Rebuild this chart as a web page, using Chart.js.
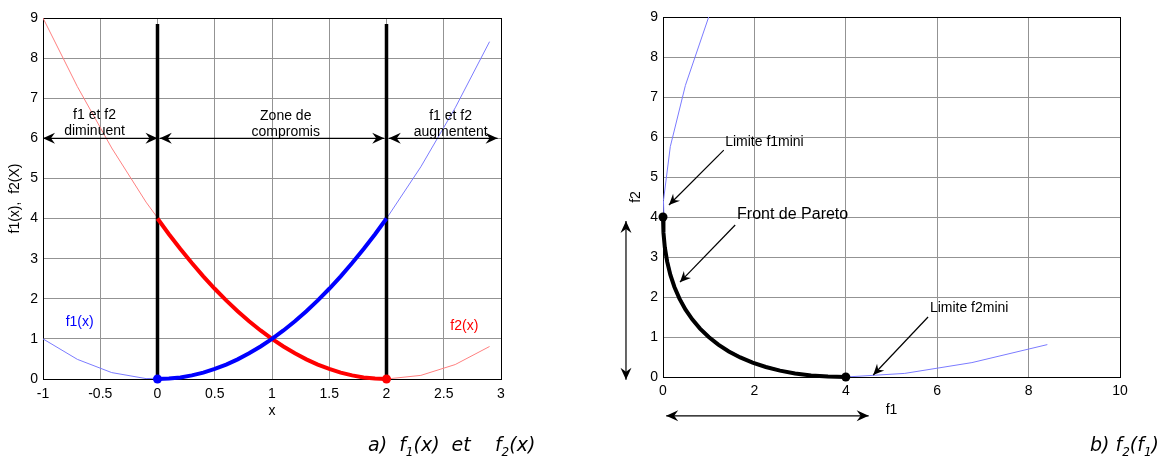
<!DOCTYPE html>
<html>
<head>
<meta charset="utf-8">
<script src="https://cdn.jsdelivr.net/npm/chart.js@4/dist/chart.umd.min.js"></script>
<style>
  body { margin: 0; background: #fff; width: 1174px; height: 458px; overflow: hidden; position: relative; }
  .wrap { position: absolute; top: 0; width: 587px; height: 458px; }
  .cap { position: absolute; top: 433px; font-family: "DejaVu Sans", sans-serif; font-style: italic; font-size: 19px; color: #000; white-space: nowrap; }
  .cap sub { font-size: 12px; }
</style>
</head>
<body>
<div class="wrap" style="left:0"><canvas id="chartA" width="587" height="458"></canvas></div>
<div class="wrap" style="left:587px"><canvas id="chartB" width="587" height="458"></canvas></div>
<div class="cap" style="left:368px">a)&nbsp; f<sub>1</sub>(x)&nbsp; et&nbsp;&nbsp;&nbsp; f<sub>2</sub>(x)</div>
<div class="cap" style="left:1090px">b) f<sub>2</sub>(f<sub>1</sub>)</div>
<script>
// --- data ---
// coarse samples (thin curves), x = -1 .. 2.9
const xCoarse  = [-1, -0.7, -0.4, -0.1, 0.2, 0.5, 0.8, 1.1, 1.4, 1.7, 2, 2.3, 2.6, 2.9];
const f1Coarse = [1, 0.49, 0.16, 0.01, 0.04, 0.25, 0.64, 1.21, 1.96, 2.89, 4, 5.29, 6.76, 8.41];
const f2Coarse = [9, 7.29, 5.76, 4.41, 3.24, 2.25, 1.44, 0.81, 0.36, 0.09, 0, 0.09, 0.36, 0.81];
// zone de compromis (thick curves), x = 0 .. 2
const xFine  = [0, 0.1, 0.2, 0.3, 0.4, 0.5, 0.6, 0.7, 0.8, 0.9, 1, 1.1, 1.2, 1.3, 1.4, 1.5, 1.6, 1.7, 1.8, 1.9, 2];
const f1Fine = [0, 0.01, 0.04, 0.09, 0.16, 0.25, 0.36, 0.49, 0.64, 0.81, 1, 1.21, 1.44, 1.69, 1.96, 2.25, 2.56, 2.89, 3.24, 3.61, 4];
const f2Fine = [4, 3.61, 3.24, 2.89, 2.56, 2.25, 1.96, 1.69, 1.44, 1.21, 1, 0.81, 0.64, 0.49, 0.36, 0.25, 0.16, 0.09, 0.04, 0.01, 0];
// limits of the compromise zone
const xLimits = [0, 2];
const limitTop = 8.85;
// tick labels
const xTicksA = [-1, -0.5, 0, 0.5, 1, 1.5, 2, 2.5, 3];
const xTicksB = [0, 2, 4, 6, 8, 10];
const yTicks  = [0, 1, 2, 3, 4, 5, 6, 7, 8, 9];

const pts = (xs, ys) => xs.map((v, i) => ({ x: v, y: ys[i] }));
const FONT = '"Liberation Sans", Arial, sans-serif';

function head(ctx, x0, y0, x1, y1, s) {
  const ang = Math.atan2(y1 - y0, x1 - x0);
  const L = 12 * s, W = 5.5 * s, N = 8 * s;
  ctx.save();
  ctx.translate(x1, y1); ctx.rotate(ang);
  ctx.beginPath();
  ctx.moveTo(0, 0); ctx.lineTo(-L, -W); ctx.lineTo(-N, 0); ctx.lineTo(-L, W);
  ctx.closePath(); ctx.fill();
  ctx.restore();
}

const deco = {
  id: 'deco',
  beforeDatasetsDraw(chart) {
    const { ctx, chartArea: a } = chart;
    ctx.save();
    ctx.strokeStyle = '#000'; ctx.lineWidth = 1;
    ctx.strokeRect(Math.round(a.left) + 0.5, Math.round(a.top) + 0.5, Math.round(a.right - a.left), Math.round(a.bottom - a.top));
    ctx.restore();
  },
  afterDatasetsDraw(chart, args, opts) {
    const { ctx, scales: { x, y } } = chart;
    ctx.save();
    ctx.strokeStyle = '#000'; ctx.fillStyle = '#000'; ctx.lineWidth = 1.2;
    (opts.arrows || []).forEach(r => {
      const x0 = x.getPixelForValue(r.x0), y0 = y.getPixelForValue(r.y0);
      const x1 = x.getPixelForValue(r.x1), y1 = y.getPixelForValue(r.y1);
      ctx.beginPath(); ctx.moveTo(x0, y0); ctx.lineTo(x1, y1); ctx.stroke();
      head(ctx, x0, y0, x1, y1, r.s || 1);
      if (r.both) head(ctx, x1, y1, x0, y0, r.s || 1);
    });
    (opts.texts || []).forEach(t => {
      ctx.font = (t.size || 14) + 'px ' + FONT;
      ctx.fillStyle = t.color || '#000';
      ctx.textAlign = t.align || 'center';
      ctx.textBaseline = 'middle';
      t.lines.forEach((l, i) => ctx.fillText(l, x.getPixelForValue(t.x), y.getPixelForValue(t.y) + i * 16));
    });
    ctx.restore();
  }
};

function axes(xTicks, xMin, xMax, xTitle, yTitle, dims) {
  const grid = { color: '#939393', lineWidth: 1, drawTicks: false };
  const tickFont = { family: FONT, size: 14 };
  return {
    x: {
      type: 'linear', min: xMin, max: xMax,
      afterBuildTicks: s => { s.ticks = xTicks.map(v => ({ value: v })); },
      afterFit: s => { s.height = dims.xh; },
      grid, border: { display: false },
      ticks: { color: '#000', font: tickFont, padding: dims.xtp, maxRotation: 0, callback: v => String(v) },
      title: { display: true, text: xTitle, color: '#000', font: { family: FONT, size: 14 }, padding: { bottom: dims.xtitle, top: 0 } }
    },
    y: {
      type: 'linear', min: 0, max: 9,
      afterBuildTicks: s => { s.ticks = yTicks.map(v => ({ value: v })); },
      afterFit: s => { s.width = dims.yw; },
      grid, border: { display: false },
      ticks: { color: '#000', font: tickFont, padding: 5, callback: v => String(v) },
      title: { display: true, text: yTitle, color: '#000', font: { family: FONT, size: 14 }, padding: { top: dims.ytitle, bottom: 0 } }
    }
  };
}

Chart.defaults.font.family = FONT;

new Chart(document.getElementById('chartA'), {
  type: 'scatter',
  data: {
    datasets: [
      { data: [{ x: xLimits[0], y: 0 }], pointRadius: 4.5, backgroundColor: '#0000ff', borderWidth: 0, clip: false },
      { data: [{ x: xLimits[1], y: 0 }], pointRadius: 4.5, backgroundColor: '#ff0000', borderWidth: 0, clip: false },
      { data: pts(xFine, f1Fine), showLine: true, borderColor: '#0000ff', borderWidth: 4, pointRadius: 0, clip: false },
      { data: pts(xFine, f2Fine), showLine: true, borderColor: '#ff0000', borderWidth: 4, pointRadius: 0, clip: false },
      { data: [{ x: xLimits[0], y: 0 }, { x: xLimits[0], y: limitTop }], showLine: true, borderColor: '#000', borderWidth: 3.5, pointRadius: 0, clip: false },
      { data: [{ x: xLimits[1], y: 0 }, { x: xLimits[1], y: limitTop }], showLine: true, borderColor: '#000', borderWidth: 3.5, pointRadius: 0, clip: false },
      { data: pts(xCoarse, f1Coarse), showLine: true, borderColor: '#7b7bff', borderWidth: 1, pointRadius: 0 },
      { data: pts(xCoarse, f2Coarse), showLine: true, borderColor: '#ff8080', borderWidth: 1, pointRadius: 0 }
    ]
  },
  options: {
    responsive: false, animation: false,
    layout: { padding: { left: 0, right: 86, top: 18, bottom: 0 } },
    plugins: {
      legend: { display: false }, tooltip: { enabled: false },
      deco: {
        arrows: [
          { x0: -1, y0: 6, x1: 0, y1: 6, both: true },
          { x0: 0.02, y0: 6, x1: 1.98, y1: 6, both: true },
          { x0: 2.02, y0: 6, x1: 2.97, y1: 6, both: true }
        ],
        texts: [
          { x: -0.55, y: 6.57, lines: ['f1 et f2', 'diminuent'] },
          { x: 1.12, y: 6.55, lines: ['Zone de', 'compromis'] },
          { x: 2.56, y: 6.55, lines: ['f1 et f2', 'augmentent'] },
          { x: -0.68, y: 1.42, lines: ['f1(x)'], color: '#0000ff' },
          { x: 2.68, y: 1.32, lines: ['f2(x)'], color: '#ff0000' }
        ]
      }
    },
    scales: axes(xTicksA, -1, 3, 'x', 'f1(x),  f2(X)', { xh: 79, xtp: 7, xtitle: 38.6, yw: 43, ytitle: 6.6 })
  },
  plugins: [deco]
});

new Chart(document.getElementById('chartB'), {
  type: 'scatter',
  data: {
    datasets: [
      { data: [{ x: f1Fine[0], y: f2Fine[0] }, { x: f1Fine[20], y: f2Fine[20] }], pointRadius: 4.5, backgroundColor: '#000', borderWidth: 0, clip: false },
      { data: pts(f1Fine, f2Fine), showLine: true, borderColor: '#000', borderWidth: 4, pointRadius: 0, clip: false },
      { data: pts(f1Coarse, f2Coarse), showLine: true, borderColor: '#7b7bff', borderWidth: 1, pointRadius: 0 }
    ]
  },
  options: {
    responsive: false, animation: false,
    layout: { padding: { left: 0, right: 54, top: 17, bottom: 0 } },
    plugins: {
      legend: { display: false }, tooltip: { enabled: false },
      deco: {
        arrows: [
          { x0: 1.33, y0: 5.67, x1: 0.13, y1: 4.3, s: 0.9 },
          { x0: 1.58, y0: 3.8, x1: 0.37, y1: 2.37, s: 0.9 },
          { x0: 5.8, y0: 1.5, x1: 4.6, y1: 0.05, s: 0.9 },
          { x0: -0.81, y0: 3.9, x1: -0.81, y1: -0.07, both: true },
          { x0: 0.07, y0: -0.97, x1: 4.5, y1: -0.97, both: true }
        ],
        texts: [
          { x: 1.36, y: 5.87, lines: ['Limite f1mini'], align: 'left' },
          { x: 1.62, y: 4.05, lines: ['Front de Pareto'], align: 'left', size: 16 },
          { x: 5.84, y: 1.72, lines: ['Limite f2mini'], align: 'left' }
        ]
      }
    },
    scales: axes(xTicksB, 0, 10, 'f1', 'f2', { xh: 81, xtp: 6, xtitle: 39.6, yw: 76, ytitle: 40.6 })
  },
  plugins: [deco]
});
</script>
</body>
</html>
